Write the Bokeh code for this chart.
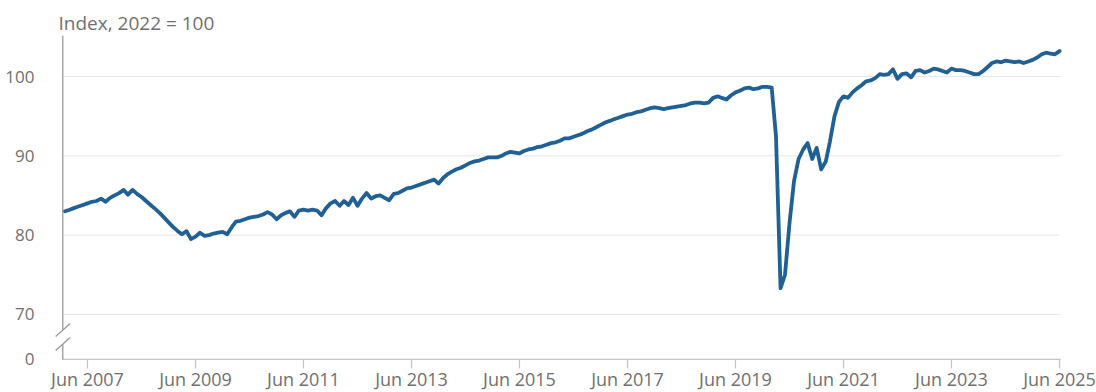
import datetime as dt
import pandas as pd
from bokeh.plotting import figure
from bokeh.models import Range1d, FixedTicker
from bokeh.core.properties import value
from bokeh.embed import file_html
from bokeh.resources import INLINE

# ---------------- data (monthly index, 2022 = 100) ----------------
y2007 = [83.0, 83.2, 83.4, 83.6, 83.8, 84.0, 84.2, 84.3, 84.6, 84.2, 84.7, 85.0]
y2008 = [85.3, 85.7, 85.1, 85.7, 85.2, 84.8, 84.3, 83.8, 83.3, 82.8, 82.2, 81.6]
y2009 = [81.0, 80.5, 80.1, 80.5, 79.5, 79.8, 80.3, 79.9, 80.0, 80.2, 80.3, 80.4]
y2010 = [80.1, 81.0, 81.7, 81.8, 82.0, 82.2, 82.3, 82.4, 82.6, 82.9, 82.6, 82.0]
y2011 = [82.5, 82.8, 83.0, 82.3, 83.1, 83.2, 83.1, 83.2, 83.1, 82.5, 83.4, 84.0]
y2012 = [84.3, 83.7, 84.3, 83.8, 84.7, 83.7, 84.6, 85.3, 84.6, 84.9, 85.0, 84.7]
y2013 = [84.4, 85.2, 85.3, 85.6, 85.9, 86.0, 86.2, 86.4, 86.6, 86.8, 87.0, 86.5]
y2014 = [87.2, 87.7, 88.0, 88.3, 88.5, 88.8, 89.1, 89.3, 89.4, 89.6, 89.8, 89.8]
y2015 = [89.8, 90.0, 90.3, 90.5, 90.4, 90.3, 90.6, 90.8, 90.9, 91.1, 91.2, 91.4]
y2016 = [91.6, 91.7, 91.9, 92.2, 92.2, 92.4, 92.6, 92.8, 93.1, 93.3, 93.6, 93.9]
y2017 = [94.2, 94.4, 94.6, 94.8, 95.0, 95.2, 95.3, 95.5, 95.6, 95.8, 96.0, 96.1]
y2018 = [96.0, 95.9, 96.0, 96.1, 96.2, 96.3, 96.4, 96.6, 96.7, 96.7, 96.6, 96.7]
y2019 = [97.3, 97.5, 97.3, 97.1, 97.6, 98.0, 98.2, 98.5, 98.6, 98.4, 98.5, 98.7]
y2020 = [98.7, 98.6, 92.5, 73.3, 75.0, 81.6, 86.8, 89.6, 90.8, 91.6, 89.6, 91.0]
y2021 = [88.3, 89.3, 91.8, 95.0, 96.8, 97.5, 97.3, 98.0, 98.5, 98.9, 99.4, 99.5]
y2022 = [99.8, 100.3, 100.2, 100.3, 100.9, 99.7, 100.3, 100.4, 99.9, 100.7, 100.8, 100.5]
y2023 = [100.7, 101.0, 100.9, 100.7, 100.5, 101.0, 100.8, 100.8, 100.7, 100.5, 100.3, 100.3]
y2024 = [100.7, 101.2, 101.7, 101.9, 101.8, 102.0, 101.9, 101.8, 101.9, 101.7, 101.9, 102.1]
y2025 = [102.4, 102.8, 103.0, 102.9, 102.8, 103.2]

start_month = "2007-01-01"
x_tick_labels = ["Jun 2007", "Jun 2009", "Jun 2011", "Jun 2013", "Jun 2015",
                 "Jun 2017", "Jun 2019", "Jun 2021", "Jun 2023", "Jun 2025"]
y_ticks = [70, 80, 90, 100]
y_zero_label = "0"
title_text = "Index, 2022 = 100"

values = (y2007 + y2008 + y2009 + y2010 + y2011 + y2012 + y2013 + y2014 + y2015
          + y2016 + y2017 + y2018 + y2019 + y2020 + y2021 + y2022 + y2023 + y2024 + y2025)
dates = pd.date_range(start_month, periods=len(values), freq="MS")
x_tick_dates = pd.to_datetime(x_tick_labels, format="%b %Y")

# ---------------- styling / layout ----------------
FONT = "Open Sans"
TEXT_C = "#707071"
LINE_C = "#206095"
GRID_C = "#e6e6e6"
XAXIS_C = "#c4c4cc"
YAXIS_C = "#9a9a9a"

PXU = 7.93                       # pixels per index point
ZERO_POS = 70 - 45 / PXU         # where "0" sits (broken axis)
Y_TOP = 100 + 41 / PXU
FRAME_H = 357
Y_BOT = Y_TOP - FRAME_H / PXU

def px(n):
    return n / PXU

axis_x = dates[0] - pd.Timedelta(days=16)
line_end = dates[-1] + pd.Timedelta(days=7)
x_start = dates[0] - pd.Timedelta(days=99)
x_end = dates[-1] + pd.Timedelta(days=250)

p = figure(width=1096, height=392, output_backend="svg", toolbar_location=None,
           x_axis_location=None, y_axis_location="left",
           x_range=Range1d(x_start, x_end), y_range=Range1d(Y_BOT, Y_TOP),
           min_border_left=50, min_border_right=0, min_border_top=35, min_border_bottom=0)
p.outline_line_color = None
p.grid.visible = False
p.background_fill_color = "white"

p.title.text = title_text
p.title.align = "left"
p.title.offset = 8
p.title.standoff = 0
p.title.text_font = FONT
p.title.text_font_size = "19px"
p.title.text_font_style = "normal"
p.title.text_color = TEXT_C

yax = p.yaxis[0]
yax.ticker = FixedTicker(ticks=[ZERO_POS] + y_ticks)
yax.major_label_overrides = {ZERO_POS: y_zero_label}
yax.axis_line_color = None
yax.major_tick_line_color = None
yax.minor_tick_line_color = None
yax.major_label_standoff = 10
yax.major_label_text_font = FONT
yax.major_label_text_font_size = "17px"
yax.major_label_text_color = TEXT_C

# gridlines
p.segment(x0=[axis_x] * len(y_ticks), y0=y_ticks, x1=[line_end] * len(y_ticks), y1=y_ticks,
          line_color=GRID_C, line_width=1)
# x axis line, ticks and labels
p.segment(x0=[axis_x], y0=[ZERO_POS], x1=[line_end], y1=[ZERO_POS], line_color=XAXIS_C, line_width=1.2)
n = len(x_tick_dates)
p.segment(x0=x_tick_dates, y0=[ZERO_POS] * n, x1=x_tick_dates, y1=[ZERO_POS - px(9)] * n,
          line_color=XAXIS_C, line_width=1.2)
p.text(x=x_tick_dates, y=[ZERO_POS - px(8)] * n, text=x_tick_labels,
       text_font=value(FONT), text_font_size="18px", text_color=TEXT_C,
       text_align="center", text_baseline="top")
# y axis line with break
p.segment(x0=[axis_x, axis_x], y0=[Y_TOP, ZERO_POS + px(15.3)],
          x1=[axis_x, axis_x], y1=[ZERO_POS + px(29.5), ZERO_POS],
          line_color=YAXIS_C, line_width=1.3)
d0 = pd.Timedelta(days=48)
d1 = pd.Timedelta(days=50)
p.segment(x0=[axis_x - d0, axis_x - d0],
          y0=[ZERO_POS + px(29.5 - 6.5), ZERO_POS + px(15.3 - 6.5)],
          x1=[axis_x + d1, axis_x + d1],
          y1=[ZERO_POS + px(29.5 + 6.5), ZERO_POS + px(15.3 + 6.5)],
          line_color=YAXIS_C, line_width=1.3)

# data line
p.line(x=dates, y=values, line_color=LINE_C, line_width=3.8, line_join="round", line_cap="round")

open("out.html", "w").write(file_html(p, INLINE))
